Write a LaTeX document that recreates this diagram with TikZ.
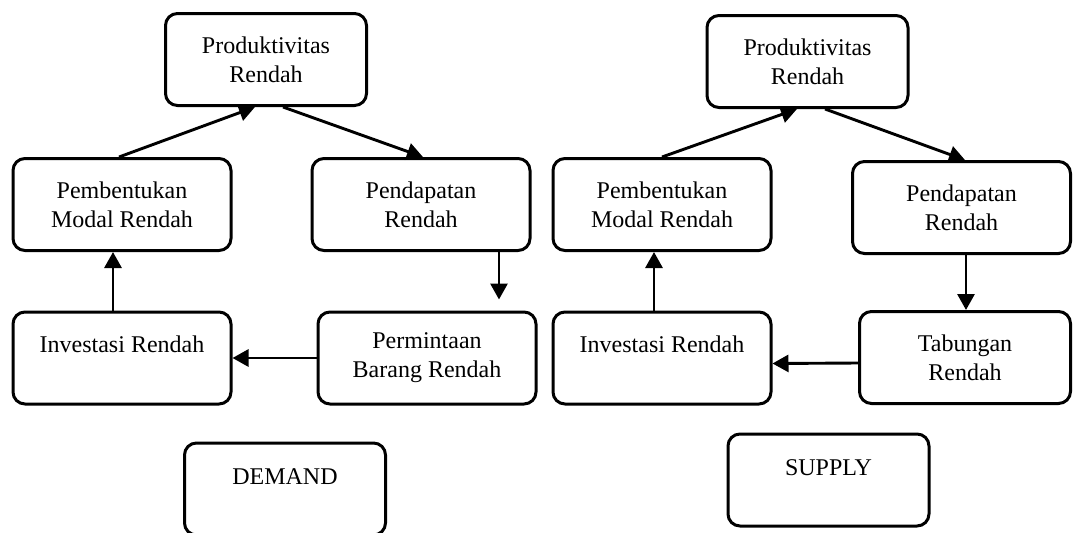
\documentclass[tikz,border=0pt]{standalone}
\usepackage{fontspec}
\setmainfont{Liberation Serif}
\usetikzlibrary{arrows.meta}
\tikzset{
  blok/.style={draw, line width=1.5pt, rounded corners=6pt, minimum width=109pt, minimum height=46pt, align=center, font=\fontsize{12}{14.5}\selectfont},
  blokatas/.style={blok, text height=8.5pt, text depth=14pt},
  judul/.style={blokatas, minimum width=100.5pt, text depth=13.5pt},
  panah/.style={line width=1.45pt, -{Triangle[length=8pt,width=8.5pt]}}
}
\begin{document}
\begin{tikzpicture}[x=0.5pt,y=-0.5pt]
\path[use as bounding box, clip] (0,0) rectangle (1073,532);
% demand
\node[blok, minimum width=100.5pt] (prodL) at (266,59.5) {Produktivitas\\Rendah};
\node[blok] (pembL) at (122,204.5) {Pembentukan\\Modal Rendah};
\node[blok] (pendL) at (421,204.5) {Pendapatan\\Rendah};
\node[blokatas] (invL) at (122,358) {Investasi Rendah};
\node[blok] (permL) at (427,358) {Permintaan\\Barang Rendah};
\node[judul] (demand) at (285,489) {DEMAND};
\draw[panah] ([xshift=-1.5pt]pembL.north) -- ([xshift=-5.5pt]prodL.south);
\draw[panah] ([xshift=8.5pt]prodL.south) -- ([xshift=1pt]pendL.north);
\draw[panah] ([xshift=39pt]pendL.south) -- ([xshift=36pt,yshift=5.5pt]permL.north);
\draw[panah] (permL.west) -- (invL.east);
\draw[panah] ([xshift=-4.5pt]invL.north) -- ([xshift=-4.5pt]pembL.south);
% supply
\node[blok, minimum width=100.5pt] (prodR) at (807.5,61.5) {Produktivitas\\Rendah};
\node[blok] (pembR) at (662,204.5) {Pembentukan\\Modal Rendah};
\node[blok] (pendR) at (961.5,207.5) {Pendapatan\\Rendah};
\node[blokatas] (invR) at (662,358) {Investasi Rendah};
\node[blok, minimum width=105.5pt] (tabR) at (965,357.5) {Tabungan\\Rendah};
\node[judul] (supply) at (828.5,480) {SUPPLY};
\draw[panah] (pembR.north) -- ([xshift=-5.25pt]prodR.south);
\draw[panah] ([xshift=8.75pt]prodR.south) -- ([xshift=1.75pt]pendR.north);
\draw[panah] ([xshift=2.25pt]pendR.south) -- ([xshift=0.5pt]tabR.north);
\draw[panah] ([yshift=-2.75pt]tabR.west) -- ([yshift=-2.75pt]invR.east);
\draw[panah] ([xshift=-4pt]invR.north) -- ([xshift=-4pt]pembR.south);
\end{tikzpicture}
\end{document}
